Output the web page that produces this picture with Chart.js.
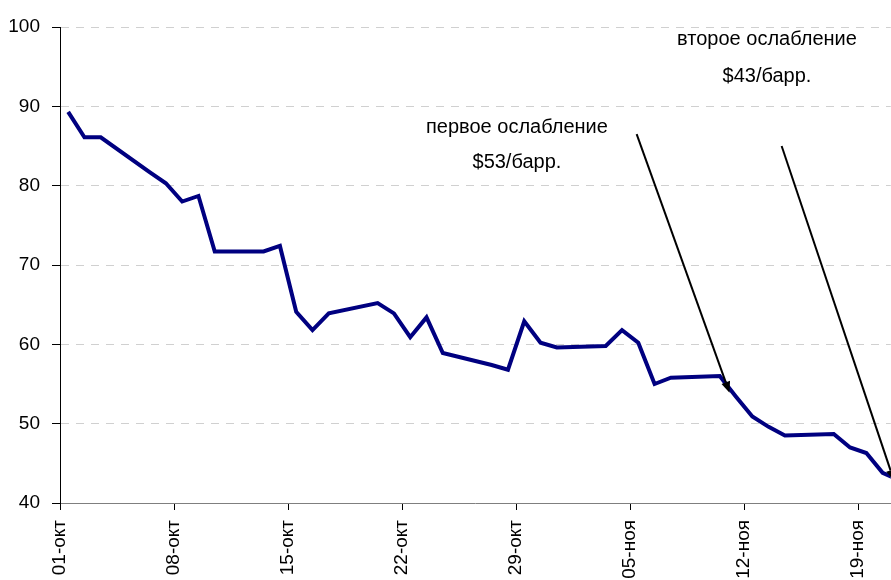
<!DOCTYPE html>
<html>
<head>
<meta charset="utf-8">
<script src="https://cdn.jsdelivr.net/npm/chart.js@4"></script>
<style>
    html, body { margin: 0; padding: 0; background: #fff; overflow: hidden; }
    canvas { display: block; }
</style>
</head>
<body>
<canvas id="oil-chart" width="891" height="580"></canvas>
<script>
// Trading days and prices, $/bbl
const dates = [
    '2008-10-01', '2008-10-02', '2008-10-03', '2008-10-06', '2008-10-07',
    '2008-10-08', '2008-10-09', '2008-10-10', '2008-10-13', '2008-10-14',
    '2008-10-15', '2008-10-16', '2008-10-17', '2008-10-20', '2008-10-21',
    '2008-10-22', '2008-10-23', '2008-10-24', '2008-10-27', '2008-10-28',
    '2008-10-29', '2008-10-30', '2008-10-31', '2008-11-03', '2008-11-04',
    '2008-11-05', '2008-11-06', '2008-11-07', '2008-11-10', '2008-11-11',
    '2008-11-12', '2008-11-13', '2008-11-14', '2008-11-17', '2008-11-18',
    '2008-11-19', '2008-11-20', '2008-11-21'
];
const prices = [
    89.3, 86.1, 86.1, 81.7, 80.3,
    78.0, 78.7, 71.7, 71.7, 72.4,
    64.1, 61.8, 63.9, 65.2, 63.9,
    60.9, 63.4, 58.9, 57.4, 56.8,
    62.9, 60.2, 59.6, 59.8, 61.8,
    60.2, 55.0, 55.8, 56.0, 53.4,
    50.9, 49.6, 48.5, 48.7, 47.0,
    46.3, 43.8, 42.9
];

// Axis ticks
const tickDates = ['2008-10-01', '2008-10-08', '2008-10-15', '2008-10-22', '2008-10-29', '2008-11-05', '2008-11-12', '2008-11-19'];
const tickLabels = ['01-окт', '08-окт', '15-окт', '22-окт', '29-окт', '05-ноя', '12-ноя', '19-ноя'];
const yTicks = [40, 50, 60, 70, 80, 90, 100];

// Annotations (day offsets from 01-окт, price levels)
const noteLines = [
    ['первое ослабление', '$53/барр.'],
    ['второе ослабление', '$43/барр.']
];
const noteAt = [[27.55, 87.3, 82.9], [42.9, 98.4, 93.7]];
const arrowFrom = [[34.9, 86.5], [43.8, 85.0]];
const arrowTo = [[40.6, 53.9], [50.7, 42.8]];

const FONT = "'Liberation Sans', Arial, sans-serif";
const DAY = 86400000;
const start = Date.UTC(2008, 9, 1);

function dayIndex(s) {
    const p = s.split('-').map(Number);
    return Math.round((Date.UTC(p[0], p[1] - 1, p[2]) - start) / DAY);
}

const points = dates.map((d, i) => ({ x: dayIndex(d), y: prices[i] }));

// Draw the notes and arrows in data coordinates
const notesPlugin = {
    id: 'notes',
    afterDatasetsDraw(chart) {
        const ctx = chart.ctx;
        const xs = chart.scales.x;
        const ys = chart.scales.y;
        ctx.save();
        ctx.fillStyle = '#000';
        ctx.strokeStyle = '#000';
        ctx.font = '20px ' + FONT;
        ctx.textAlign = 'center';
        ctx.textBaseline = 'middle';
        noteLines.forEach((lines, i) => {
            const x = xs.getPixelForValue(noteAt[i][0]);
            ctx.fillText(lines[0], x, ys.getPixelForValue(noteAt[i][1]));
            ctx.fillText(lines[1], x, ys.getPixelForValue(noteAt[i][2]));
        });
        arrowFrom.forEach((from, i) => {
            const x1 = xs.getPixelForValue(from[0]);
            const y1 = ys.getPixelForValue(from[1]);
            const x2 = xs.getPixelForValue(arrowTo[i][0]);
            const y2 = ys.getPixelForValue(arrowTo[i][1]);
            const a = Math.atan2(y2 - y1, x2 - x1);
            const len = 11, half = 4.5;
            const bx = x2 - len * Math.cos(a);
            const by = y2 - len * Math.sin(a);
            ctx.lineWidth = 2;
            ctx.beginPath();
            ctx.moveTo(x1, y1);
            ctx.lineTo(bx, by);
            ctx.stroke();
            ctx.beginPath();
            ctx.moveTo(x2, y2);
            ctx.lineTo(bx + half * Math.sin(a), by - half * Math.cos(a));
            ctx.lineTo(bx - half * Math.sin(a), by + half * Math.cos(a));
            ctx.closePath();
            ctx.fill();
        });
        ctx.restore();
    }
};

new Chart(document.getElementById('oil-chart'), {
    type: 'line',
    data: {
        datasets: [{
            data: points,
            borderColor: '#000080',
            borderWidth: 4,
            pointRadius: 0,
            tension: 0,
            fill: false
        }]
    },
    options: {
        responsive: false,
        animation: false,
        events: [],
        layout: { padding: { top: 27, right: 0, left: 0, bottom: 0 } },
        plugins: {
            legend: { display: false },
            tooltip: { enabled: false }
        },
        scales: {
            x: {
                type: 'linear',
                min: -0.5,
                max: 50.5,
                afterBuildTicks: scale => {
                    scale.ticks = tickDates.map(d => ({ value: dayIndex(d) - 0.5 }));
                },
                afterFit: scale => { scale.height = 77; },
                grid: {
                    drawOnChartArea: false,
                    drawTicks: true,
                    tickLength: 7,
                    tickColor: '#000',
                    color: '#000'
                },
                border: { color: '#7f7f7f', width: 1 },
                ticks: {
                    autoSkip: false,
                    minRotation: 90,
                    maxRotation: 90,
                    padding: 10,
                    color: '#000',
                    font: { family: FONT, size: 19 },
                    callback: (value, index) => tickLabels[index]
                }
            },
            y: {
                min: yTicks[0],
                max: yTicks[yTicks.length - 1],
                afterBuildTicks: scale => {
                    scale.ticks = yTicks.map(v => ({ value: v }));
                },
                afterFit: scale => { scale.width = 60; },
                grid: {
                    color: c => (c.tick && c.tick.value === yTicks[0]) ? 'rgba(0,0,0,0)' : '#d0d0d0',
                    tickBorderDash: [],
                    tickLength: 8,
                    tickColor: '#000',
                    lineWidth: 1
                },
                border: { color: '#000', width: 1, dash: [8, 7] },
                ticks: {
                    padding: 12,
                    color: '#000',
                    font: { family: FONT, size: 19 }
                }
            }
        }
    },
    plugins: [notesPlugin]
});
</script>
</body>
</html>
